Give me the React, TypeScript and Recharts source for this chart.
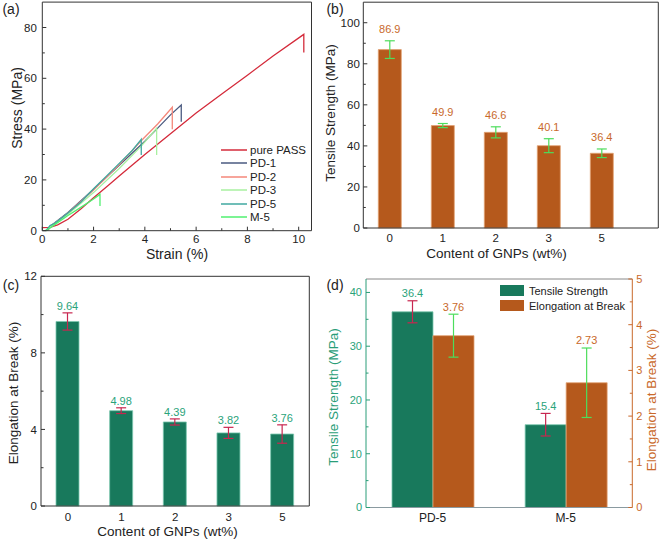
import React from 'react';
import { LineChart, Line, BarChart, Bar, XAxis, YAxis, ErrorBar, LabelList } from 'recharts';

const FONT = '"Liberation Sans", Arial, Helvetica, sans-serif';

// (a) stress-strain curves
const PASS_STRAIN = [0, 0.3, 0.6, 1.0, 1.5, 2.0, 2.5, 3.0, 4.0, 5.0, 6.0, 7.0, 8.0, 9.0, 10.2, 10.2];
const PASS_STRESS = [1.2, 1.3, 2.3, 4.5, 8.5, 13, 17.2, 21.5, 30, 38.2, 46.3, 53.8, 61.2, 68.8, 77.3, 70.2];
const PD1_STRAIN = [0.2, 0.4, 1.0, 2.0, 3.0, 4.0, 4.5, 5.0, 5.42, 5.42];
const PD1_STRESS = [0, 2.5, 7.2, 16.3, 25.8, 35.2, 40.4, 45.6, 49.5, 42.9];
const PD2_STRAIN = [0.2, 0.5, 1.0, 2.0, 3.0, 3.85, 4.5, 5.07, 5.07];
const PD2_STRESS = [0.5, 3, 7, 16, 26, 35.3, 42, 48.6, 39.9];
const PD3_STRAIN = [0.1, 0.5, 1.0, 2.0, 3.0, 3.85, 4.46, 4.46];
const PD3_STRESS = [0, 3, 6.5, 15, 24.5, 33.2, 40.3, 29.8];
const PD5_STRAIN = [0.15, 0.3, 0.5, 1.0, 1.5, 2.0, 2.5, 3.0, 3.5, 3.86, 3.86];
const PD5_STRESS = [0, 2, 3, 7, 11.2, 16.5, 21.5, 26.5, 31.5, 36, 29.8];
const M5_STRAIN = [0.15, 0.5, 1.0, 1.5, 2.0, 2.25, 2.25];
const M5_STRESS = [0, 2.5, 6, 9.2, 12.5, 14.3, 9.7];

// (b), (c) properties vs GNP content
const GNP_LABELS = ['0', '1', '2', '3', '5'];
const TS_MEAN = [86.9, 49.9, 46.6, 40.1, 36.4];
const TS_ERR = [4.3, 1.0, 2.7, 3.4, 2.1];
const EB_MEAN = [9.64, 4.98, 4.39, 3.82, 3.76];
const EB_ERR = [0.45, 0.15, 0.16, 0.29, 0.48];

// (d) PD-5 vs M-5
const SAMPLES = ['PD-5', 'M-5'];
const SAMPLE_TS = [36.4, 15.4];
const SAMPLE_TS_ERR = [2.05, 2.1];
const SAMPLE_EB = [3.76, 2.73];
const SAMPLE_EB_ERR = [0.47, 0.76];

const CURVE_COLORS = ['#d42b3b', '#4a5a80', '#f4877a', '#a8f0a0', '#40a8a0', '#50f070'];
const GREEN = '#18795c';
const ORANGE = '#b5591c';
const GREEN_TXT = '#2aa37a';
const ORANGE_TXT = '#c9692b';

const zip = (xs: number[], ys: number[]) => xs.map((x, i) => ({ x, y: ys[i] }));

const curves = [
  { name: 'pure PASS', data: zip(PASS_STRAIN, PASS_STRESS) },
  { name: 'PD-1', data: zip(PD1_STRAIN, PD1_STRESS) },
  { name: 'PD-2', data: zip(PD2_STRAIN, PD2_STRESS) },
  { name: 'PD-3', data: zip(PD3_STRAIN, PD3_STRESS) },
  { name: 'PD-5', data: zip(PD5_STRAIN, PD5_STRESS) },
  { name: 'M-5', data: zip(M5_STRAIN, M5_STRESS) },
];

const tsData = GNP_LABELS.map((cat, i) => ({ cat, v: TS_MEAN[i], e: TS_ERR[i] }));
const ebData = GNP_LABELS.map((cat, i) => ({ cat, v: EB_MEAN[i], e: EB_ERR[i] }));
const sampleData = SAMPLES.map((cat, i) => ({
  cat,
  ts: SAMPLE_TS[i],
  tsErr: SAMPLE_TS_ERR[i],
  eb: SAMPLE_EB[i],
  ebErr: SAMPLE_EB_ERR[i],
}));

type TickOpts = {
  major?: (v: any) => boolean;
  color?: string;
  lineColor?: string;
  gap?: number;
  size?: number;
  marks?: boolean;
};

// inward Origin-style ticks, drawn by hand so minor ticks are shorter
const axisTick = (side: 'bottom' | 'left' | 'right', o: TickOpts = {}) => (p: any) => {
  const v = p.payload.value;
  const major = o.major ? o.major(v) : true;
  const len = major ? 4 : 2.5;
  const fill = o.color ?? '#222';
  const stroke = o.lineColor ?? '#333';
  const fs = o.size ?? 11;
  const gap = o.gap ?? 4;
  if (side === 'bottom') {
    return (
      <g>
        {o.marks !== false && <line x1={p.x} x2={p.x} y1={p.y} y2={p.y - len} stroke={stroke} />}
        {major && (
          <text x={p.x} y={p.y + gap} textAnchor="middle" fontSize={fs} fill={fill} fontFamily={FONT}>
            {v}
          </text>
        )}
      </g>
    );
  }
  if (side === 'left') {
    return (
      <g>
        <line x1={p.x} x2={p.x + len} y1={p.y} y2={p.y} stroke={stroke} />
        {major && (
          <text x={p.x - gap} y={p.y} dy="0.36em" textAnchor="end" fontSize={fs} fill={fill} fontFamily={FONT}>
            {v}
          </text>
        )}
      </g>
    );
  }
  return (
    <g>
      <line x1={p.x} x2={p.x - len} y1={p.y} y2={p.y} stroke={stroke} />
      {major && (
        <text x={p.x + gap} y={p.y} dy="0.36em" textAnchor="start" fontSize={fs} fill={fill} fontFamily={FONT}>
          {v}
        </text>
      )}
    </g>
  );
};

// value label sitting above the error bar cap
const valueLabel = (errs: number[], color: string, gap: number) => (props: any) => {
  const vb = props.viewBox || props;
  const { x, y, width, height } = vb;
  const value = Number(props.value);
  const errPx = value ? (errs[props.index] * height) / value : 0;
  return (
    <text x={x + width / 2} y={y - errPx - gap} textAnchor="middle" fontSize={11} fill={color} fontFamily={FONT}>
      {props.value}
    </text>
  );
};

const Txt = ({ x, y, size = 14, color = '#222', rotate = false, children }: any) => (
  <div
    style={{
      position: 'absolute',
      left: x,
      top: y,
      transform: `translate(-50%, -50%)${rotate ? ' rotate(-90deg)' : ''}`,
      fontSize: size,
      color,
      whiteSpace: 'nowrap',
      lineHeight: 1,
    }}
  >
    {children}
  </div>
);

const AXIS = '#333';
// axes get a 1px box (a 0px one is not drawn); margins are trimmed by 1 to keep the plot area in place
const common = { tickSize: 0, tickMargin: 0, tickLine: false, interval: 0 as const };

function PanelA() {
  return (
    <div style={{ position: 'absolute', left: 0, top: 0 }}>
      <LineChart width={330} height={270} margin={{ top: 1.1, right: 17.5, bottom: 38.3, left: 41.3 }}>
        <XAxis
          {...common}
          dataKey="x"
          type="number"
          domain={[0, 10.5]}
          ticks={[0, 1, 2, 3, 4, 5, 6, 7, 8, 9, 10]}
          height={1}
          axisLine={{ stroke: AXIS }}
          tick={axisTick('bottom', { major: (v) => v % 2 === 0, gap: 12.3, size: 11.5 })}
          allowDataOverflow
        />
        <XAxis xAxisId="top" orientation="top" type="number" domain={[0, 10.5]} height={1} tick={false} tickLine={false} axisLine={{ stroke: AXIS }} />
        <YAxis
          {...common}
          type="number"
          domain={[0, 90]}
          ticks={[0, 10, 20, 30, 40, 50, 60, 70, 80]}
          width={1}
          axisLine={{ stroke: AXIS }}
          tick={axisTick('left', { major: (v) => v % 20 === 0, gap: 5.5, size: 11.5 })}
        />
        <YAxis yAxisId="right" orientation="right" domain={[0, 90]} width={1} tick={false} tickLine={false} axisLine={{ stroke: AXIS }} />
        {curves.map((c, i) => (
          <Line
            key={c.name}
            data={c.data}
            dataKey="y"
            name={c.name}
            type="linear"
            stroke={CURVE_COLORS[i]}
            strokeWidth={1.3}
            dot={false}
            isAnimationActive={false}
          />
        ))}
      </LineChart>
    </div>
  );
}

function PanelB() {
  return (
    <div style={{ position: 'absolute', left: 330, top: 0 }}>
      <BarChart width={331} height={270} data={tsData} margin={{ top: 1.2, right: 1.7, bottom: 41, left: 32.3 }}>
        <XAxis
          {...common}
          dataKey="cat"
          padding={{ left: 0, right: 30 }}
          height={1}
          axisLine={{ stroke: AXIS }}
          tick={axisTick('bottom', { marks: false, gap: 13.6, size: 11.5 })}
        />
        <XAxis xAxisId="top" dataKey="cat" orientation="top" height={1} tick={false} tickLine={false} axisLine={{ stroke: AXIS }} />
        <YAxis
          {...common}
          type="number"
          domain={[0, 110]}
          ticks={[0, 10, 20, 30, 40, 50, 60, 70, 80, 90, 100]}
          width={1}
          axisLine={{ stroke: AXIS }}
          tick={axisTick('left', { major: (v) => v % 20 === 0, gap: 3.5, size: 11.5 })}
        />
        <YAxis yAxisId="right" orientation="right" domain={[0, 110]} width={1} tick={false} tickLine={false} axisLine={{ stroke: AXIS }} />
        <Bar dataKey="v" barSize={23} fill={ORANGE} stroke="#e2a273" strokeWidth={0.8} isAnimationActive={false}>
          <ErrorBar dataKey="e" width={5} stroke="#4ddd5c" strokeWidth={1.2} direction="y" />
          <LabelList dataKey="v" content={valueLabel(TS_ERR, ORANGE_TXT, 8)} />
        </Bar>
      </BarChart>
    </div>
  );
}

function PanelC() {
  return (
    <div style={{ position: 'absolute', left: 0, top: 270 }}>
      <BarChart width={330} height={271} data={ebData} margin={{ top: 5.3, right: 19.7, bottom: 34, left: 40 }}>
        <XAxis
          {...common}
          dataKey="cat"
          height={1}
          axisLine={{ stroke: AXIS }}
          tick={axisTick('bottom', { marks: false, gap: 14.6, size: 11.5 })}
        />
        <XAxis xAxisId="top" dataKey="cat" orientation="top" height={1} tick={false} tickLine={false} axisLine={{ stroke: AXIS }} />
        <YAxis
          {...common}
          type="number"
          domain={[0, 12]}
          ticks={[0, 2, 4, 6, 8, 10, 12]}
          width={1}
          axisLine={{ stroke: AXIS }}
          tick={axisTick('left', { major: (v) => v % 4 === 0, gap: 4, size: 11.5 })}
        />
        <YAxis yAxisId="right" orientation="right" domain={[0, 12]} width={1} tick={false} tickLine={false} axisLine={{ stroke: AXIS }} />
        <Bar dataKey="v" barSize={23} fill={GREEN} stroke="#7cc8b0" strokeWidth={0.8} isAnimationActive={false}>
          <ErrorBar dataKey="e" width={5} stroke="#c8264f" strokeWidth={1.2} direction="y" />
          <LabelList dataKey="v" content={valueLabel(EB_ERR, GREEN_TXT, 3)} />
        </Bar>
      </BarChart>
    </div>
  );
}

function PanelD() {
  return (
    <div style={{ position: 'absolute', left: 330, top: 270 }}>
      <BarChart width={331} height={271} data={sampleData} barGap={0} margin={{ top: 8, right: 27.7, bottom: 32.5, left: 35 }}>
        <XAxis
          {...common}
          dataKey="cat"
          height={1}
          axisLine={{ stroke: '#8a9aa0' }}
          tick={axisTick('bottom', { marks: false, gap: 14.3, size: 12 })}
        />
        <XAxis xAxisId="top" dataKey="cat" orientation="top" height={1} tick={false} tickLine={false} axisLine={{ stroke: '#888' }} />
        <YAxis
          {...common}
          yAxisId="left"
          type="number"
          domain={[0, 42.5]}
          ticks={[0, 5, 10, 15, 20, 25, 30, 35, 40]}
          width={1}
          axisLine={{ stroke: '#2a9d78' }}
          tick={axisTick('left', { major: (v) => v % 10 === 0, gap: 4, size: 11, color: GREEN_TXT, lineColor: '#2a9d78' })}
        />
        <YAxis
          {...common}
          yAxisId="right"
          orientation="right"
          type="number"
          domain={[0, 5]}
          ticks={[0, 0.5, 1, 1.5, 2, 2.5, 3, 3.5, 4, 4.5, 5]}
          width={1}
          axisLine={{ stroke: ORANGE_TXT }}
          tick={axisTick('right', { major: (v) => Number.isInteger(v), gap: 4, size: 11, color: ORANGE_TXT, lineColor: ORANGE_TXT })}
        />
        <Bar yAxisId="left" dataKey="ts" name="Tensile Strength" barSize={41} fill={GREEN} stroke="#7cc8b0" strokeWidth={0.8} isAnimationActive={false}>
          <ErrorBar dataKey="tsErr" width={5} stroke="#c8264f" strokeWidth={1.2} direction="y" />
          <LabelList dataKey="ts" content={valueLabel(SAMPLE_TS_ERR, GREEN_TXT, 3.6)} />
        </Bar>
        <Bar yAxisId="right" dataKey="eb" name="Elongation at Break" barSize={41} fill={ORANGE} stroke="#e2a273" strokeWidth={0.8} isAnimationActive={false}>
          <ErrorBar dataKey="ebErr" width={5} stroke="#4ddd5c" strokeWidth={1.2} direction="y" />
          <LabelList dataKey="eb" content={valueLabel(SAMPLE_EB_ERR, ORANGE_TXT, 3.6)} />
        </Bar>
      </BarChart>
    </div>
  );
}

const LegendA = () => (
  <div style={{ position: 'absolute', left: 221, top: 143 }}>
    {curves.map((c, i) => (
      <div key={c.name} style={{ display: 'flex', alignItems: 'center', height: 13.5, fontSize: 11.5, color: '#222' }}>
        <svg width={26} height={4} style={{ marginRight: 3 }}>
          <line x1={0} x2={26} y1={2} y2={2} stroke={CURVE_COLORS[i]} strokeWidth={1.5} />
        </svg>
        {c.name}
      </div>
    ))}
  </div>
);

const LegendD = () => (
  <div style={{ position: 'absolute', left: 500, top: 283 }}>
    {[
      { name: 'Tensile Strength', color: GREEN },
      { name: 'Elongation at Break', color: ORANGE },
    ].map((it) => (
      <div key={it.name} style={{ display: 'flex', alignItems: 'center', height: 15, fontSize: 11, color: '#222' }}>
        <div style={{ width: 24, height: 11, background: it.color, marginRight: 5 }} />
        {it.name}
      </div>
    ))}
  </div>
);

export default function App() {
  return (
    <div
      style={{
        position: 'absolute',
        left: 0,
        top: 0,
        width: 661,
        height: 541,
        background: '#fff',
        fontFamily: FONT,
        overflow: 'hidden',
      }}
    >
      <PanelA />
      <PanelB />
      <PanelC />
      <PanelD />
      <LegendA />
      <LegendD />

      <Txt x={11} y={9}>(a)</Txt>
      <Txt x={17} y={107.5} rotate>Stress (MPa)</Txt>
      <Txt x={177} y={254}>Strain (%)</Txt>

      <Txt x={335} y={9}>(b)</Txt>
      <Txt x={331} y={113} size={13.5} rotate>Tensile Strength (MPa)</Txt>
      <Txt x={496.5} y={254} size={13.5}>Content of GNPs (wt%)</Txt>

      <Txt x={11} y={285}>(c)</Txt>
      <Txt x={14} y={392.5} size={13.5} rotate>Elongation at Break (%)</Txt>
      <Txt x={167.5} y={531.7} size={13.5}>Content of GNPs (wt%)</Txt>

      <Txt x={335} y={285}>(d)</Txt>
      <Txt x={334} y={396.7} size={13.5} color="#2a9d78" rotate>Tensile Strength (MPa)</Txt>
      <Txt x={651.7} y={400} size={13.5} color={ORANGE_TXT} rotate>Elongation at Break (%)</Txt>
    </div>
  );
}
